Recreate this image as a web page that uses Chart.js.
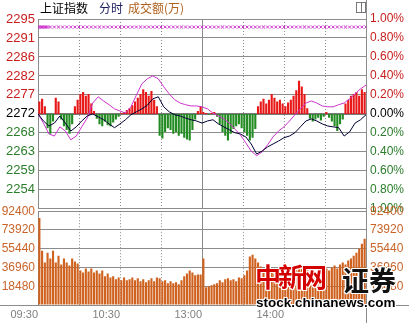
<!DOCTYPE html>
<html>
<head>
<meta charset="utf-8">
<script src="https://cdn.jsdelivr.net/npm/chart.js@4.4.1/dist/chart.umd.min.js"></script>
<style>
  html, body { margin: 0; padding: 0; background: #fff; }
  #wrap { position: relative; width: 409px; height: 323px; overflow: hidden; background: #fff; }
  #wrap canvas { position: absolute; left: 0; }
  #priceChart { top: 0; }
  #volChart { top: 200px; }
  .ttl { position: absolute; top: 0; font-size: 12px; line-height: 16px; font-family: "Noto Sans CJK SC", sans-serif; white-space: nowrap; }
  .frame { position: absolute; background: #8c8c8c; }
  #icon { position: absolute; left: 356px; top: 2px; width: 8px; height: 9px; border: 1px solid #777; }
  #icon div { position: absolute; left: 4px; top: 0; width: 1px; height: 9px; background: #777; }
  .wm { position: absolute; white-space: nowrap;
    text-shadow: #fff 1px 0, #fff -1px 0, #fff 0 1px, #fff 0 -1px, #fff 1px 1px, #fff -1px -1px, #fff 1px -1px, #fff -1px 1px; }
</style>
</head>
<body>
<div id="wrap">
  <canvas id="priceChart" width="409" height="220"></canvas>
  <canvas id="volChart" width="409" height="123"></canvas>
  <div class="frame" style="left:366px;top:0;width:1px;height:323px"></div>
  <div class="frame" style="left:0;top:305px;width:409px;height:1px"></div>
  <span class="ttl" style="left:40px;color:#000">上证指数</span>
  <span class="ttl" style="left:99px;color:#1c1c60">分时</span>
  <span class="ttl" style="left:128px;color:#b0621e">成交额(万)</span>
  <div id="icon"><div></div></div>
  <span class="wm" style="left:255px;top:263px;font:bold 26px/26px 'Noto Sans CJK SC';letter-spacing:-3px;color:#d40000">中新网</span>
  <span class="wm" style="left:342px;top:266px;font:bold 27px/27px 'Noto Sans CJK SC';color:#111">证券</span>
  <span class="wm" style="left:256px;top:296px;font:bold 13.5px/14px 'Liberation Sans',Arial;color:#000">stock.chinanews.com</span>
</div>
<script>
// previous close and axis ticks
const prevClose = 2272.4;
const pctSteps = [-1, -0.8, -0.6, -0.4, -0.2, 0, 0.2, 0.4, 0.6, 0.8, 1];
// labels listed top to bottom
const priceLabels = ['2295', '2291', '2286', '2282', '2277', '2272', '2268', '2263', '2259', '2254', ''];
const pctLabels = ['1.00%', '0.80%', '0.60%', '0.40%', '0.20%', '0.00%', '0.20%', '0.40%', '0.60%', '0.80%', '1.00%'];
const volTicks = [0, 18480, 36960, 55440, 73920, 92400];
const volLabels = ['', '18480', '36960', '55440', '73920', '92400'];
const gridTimes = [0, 30, 60, 90, 120, 150, 180, 210, 240];
const timeTickValues = [0, 60, 120, 180];
const timeTickLabels = ['09:30', '10:30', '13:00', '14:00'];

// index (black) and unweighted (magenta), one point every 4 minutes
const indexLine = [
  2272.4, 2270.7, 2269.5, 2270.2, 2271.9, 2270.2, 2268.3, 2269.3, 2270.7, 2271.9,
  2272.4, 2271.7, 2271.0, 2270.0, 2269.1, 2270.0, 2271.0, 2272.2, 2272.9, 2273.6,
  2274.5, 2276.0, 2276.5, 2274.1, 2272.9, 2272.2, 2271.9, 2271.4, 2271.0, 2270.7,
  2270.2, 2270.7, 2271.0, 2270.0, 2269.3, 2268.6, 2267.9, 2267.6, 2266.9, 2265.2,
  2262.8, 2263.5, 2264.5, 2265.2, 2265.9, 2266.7, 2267.1, 2267.9, 2269.3, 2270.7,
  2271.2, 2270.7, 2270.0, 2269.5, 2269.3, 2269.1, 2267.1, 2268.1, 2270.2, 2271.0,
  2272.2
];
const avgLine = [
  2272.4, 2270.2, 2267.6, 2267.1, 2269.3, 2268.3, 2266.2, 2267.1, 2269.3, 2271.4,
  2275.0, 2276.5, 2275.5, 2274.6, 2273.6, 2273.1, 2272.6, 2274.1, 2276.9, 2279.6,
  2280.8, 2281.5, 2280.8, 2278.9, 2277.2, 2275.8, 2275.0, 2274.6, 2274.3, 2274.3,
  2274.1, 2273.6, 2272.6, 2271.9, 2271.2, 2270.2, 2268.8, 2267.4, 2265.5, 2263.5,
  2262.4, 2263.3, 2265.0, 2266.9, 2268.3, 2269.3, 2270.7, 2272.2, 2273.6, 2275.0,
  2275.5, 2275.0, 2274.3, 2274.1, 2274.1, 2274.6, 2275.0, 2276.0, 2277.2, 2278.4,
  2279.3
];
// buy/sell strength bars, one every 2 minutes
const strength = [
  13, 16, 8, -15, -21, -8, 17, 13, -6, -13,
  -17, -21, -11, 8, 15, 21, 23, 19, 21, 11,
  3, -5, -11, -13, -8, -12, -13, -9, -6, -3,
  1, 2, 4, 6, 9, 13, 17, 21, 26, 23,
  19, 24, 15, 8, -23, -26, -19, -15, -17, -21,
  -19, -23, -21, -25, -27, -28, -17, -6, 3, 8,
  2, 1, -1, 1, 2, -3, -11, -19, -23, -28,
  -21, -16, -13, -11, -15, -19, -23, -28, -25, -16,
  8, 13, 16, 11, 15, 21, 17, 13, 15, 11,
  8, 12, 15, 19, 25, 35, 29, 21, 6, -5,
  -8, -6, -4, -7, -3, 2, -4, -8, -13, -18,
  -11, -6, 11, 15, 19, 21, 23, 19, 26, 23
];
// turnover (10k yuan), one bar every 2 minutes
const volume = [
  85600, 53500, 41800, 51500, 45700, 53500, 41800, 48600, 39900, 45700,
  41800, 38900, 45700, 42800, 40800, 34000, 32100, 36000, 33100, 36000,
  32100, 34000, 31100, 34000, 28200, 31100, 27200, 28200, 25300, 27200,
  24300, 27200, 24300, 25300, 27200, 24300, 26300, 23300, 25300, 22400,
  24300, 26300, 23300, 27200, 26300, 23300, 24300, 21400, 23300, 21400,
  22400, 20400, 24300, 28200, 31100, 34000, 32100, 29200, 30100, 30100,
  45700, 17500, 18500, 19500, 20400, 21400, 24300, 22400, 25300, 26300,
  24300, 25300, 23300, 27200, 26300, 29200, 34000, 47700, 49600, 45700,
  41800, 37900, 34000, 36000, 32100, 34000, 31100, 29200, 32100, 30100,
  28200, 30100, 32100, 34000, 36000, 37900, 36000, 34000, 37000, 33100,
  36000, 32100, 34000, 31100, 35000, 36000, 34000, 37000, 38900, 36000,
  39900, 41800, 39900, 43800, 45700, 48600, 51500, 55400, 60300, 65200
];
// row of x marks near the top
const markerLevel = 2293.2;
const markerExtra = [1, 2, 4, 5, 7];

Chart.defaults.font.family = '"Liberation Sans", Arial, sans-serif';
Chart.defaults.animation = false;

const gridColor = '#8c8c8c';
const upColor = '#e81818';
const downColor = '#228b22';
const lineStep = 4;
const barStep = 2;

const markerTimes = markerExtra.slice();
for (let t = 0; t <= 240; t += 3) markerTimes.push(t);

function priceTickColor(ctx) {
  if (ctx.index > 5) return '#c81e1e';
  if (ctx.index === 5) return '#000';
  return '#2b7d2b';
}

function setPriceTicks(s) {
  s.ticks = pctSteps.map(p => ({ value: prevClose * (1 + p / 100) }));
}
function setTimeTicks(s) {
  s.ticks = gridTimes.map(v => ({ value: v }));
}

function timeAxis(showLabels) {
  return {
    type: 'linear', min: 0, max: 240, offset: false,
    afterBuildTicks: setTimeTicks,
    afterFit: s => { s.height = showLabels ? 18 : 0; },
    ticks: {
      display: showLabels, color: '#808080', font: { size: 11 }, align: 'end',
      padding: 3, maxRotation: 0, autoSkip: false,
      callback: v => {
        const k = timeTickValues.indexOf(v);
        return k >= 0 ? timeTickLabels[k] : '';
      }
    },
    grid: { color: '#8c8c8c', drawTicks: false, offset: false },
    border: {
      color: gridColor,
      dash: ctx => (ctx.tick && ctx.tick.value === 120) ? [] : [1, 2]
    }
  };
}

const priceMin = prevClose * (1 + pctSteps[0] / 100);
const priceMax = prevClose * (1 + pctSteps[pctSteps.length - 1] / 100);

new Chart(document.getElementById('priceChart'), {
  type: 'line',
  data: {
    datasets: [
      {
        label: '上证指数', data: indexLine.map((v, i) => ({ x: i * lineStep, y: v })),
        yAxisID: 'y', borderColor: '#000033', borderWidth: 1, pointRadius: 0, order: 0
      },
      {
        label: '均价', data: avgLine.map((v, i) => ({ x: i * lineStep, y: v })),
        yAxisID: 'y', borderColor: '#cc33cc', borderWidth: 1, pointRadius: 0, order: 1
      },
      {
        label: 'marks', data: markerTimes.map(t => ({ x: t, y: markerLevel })),
        yAxisID: 'y', showLine: false, pointStyle: 'crossRot', pointRadius: 2.1,
        borderColor: '#cc33cc', borderWidth: 1, order: 1
      },
      {
        type: 'bar', label: 'strength', data: strength.map((v, i) => ({ x: i * barStep + 1, y: v })),
        yAxisID: 'yS',
        backgroundColor: ctx => (ctx.raw && ctx.raw.y >= 0) ? upColor : downColor,
        categoryPercentage: 1, barPercentage: 0.78, order: 3
      }
    ]
  },
  options: {
    responsive: false,
    layout: { padding: { top: 19, bottom: 11, left: 0, right: 0 } },
    plugins: { legend: { display: false }, tooltip: { enabled: false } },
    scales: {
      x: timeAxis(false),
      y: {
        position: 'left', min: priceMin, max: priceMax,
        afterBuildTicks: setPriceTicks,
        afterFit: s => { s.width = 38; },
        ticks: { color: priceTickColor, font: { size: 13 }, padding: 3, callback: (v, i) => priceLabels[10 - i] },
        grid: {
          drawTicks: false,
          color: ctx => ctx.index === 5 ? '#7a7a7a' : gridColor,
          lineWidth: ctx => ctx.index === 5 ? 2 : 1
        },
        border: { color: gridColor }
      },
      yR: {
        position: 'right', min: priceMin, max: priceMax,
        afterBuildTicks: setPriceTicks,
        afterFit: s => { s.width = 43; },
        ticks: { color: priceTickColor, font: { size: 12 }, padding: 4, callback: (v, i) => pctLabels[10 - i] },
        grid: { display: false, drawTicks: false },
        border: { color: gridColor }
      },
      yS: { display: false, min: -100, max: 100 }
    }
  }
});

new Chart(document.getElementById('volChart'), {
  type: 'bar',
  data: {
    datasets: [{
      label: '成交额', data: volume.map((v, i) => ({ x: i * barStep + 1, y: v })),
      backgroundColor: '#d0621f', categoryPercentage: 1, barPercentage: 0.78
    }]
  },
  options: {
    responsive: false,
    layout: { padding: { top: 10, bottom: 0, left: 0, right: 0 } },
    plugins: { legend: { display: false }, tooltip: { enabled: false } },
    scales: {
      x: timeAxis(true),
      y: {
        position: 'left', min: 0, max: 92400,
        afterBuildTicks: s => { s.ticks = volTicks.map(v => ({ value: v })); },
        afterFit: s => { s.width = 38; },
        ticks: { color: '#c8642a', font: { size: 12 }, padding: 3, callback: (v, i) => volLabels[i] },
        grid: { color: gridColor, drawTicks: false },
        border: { color: gridColor }
      },
      yR: {
        position: 'right', min: 0, max: 92400,
        afterBuildTicks: s => { s.ticks = volTicks.map(v => ({ value: v })); },
        afterFit: s => { s.width = 43; },
        ticks: { color: '#c8642a', font: { size: 12 }, padding: 4, callback: (v, i) => volLabels[i] },
        grid: { display: false, drawTicks: false },
        border: { color: gridColor }
      }
    }
  }
});
</script>
</body>
</html>
